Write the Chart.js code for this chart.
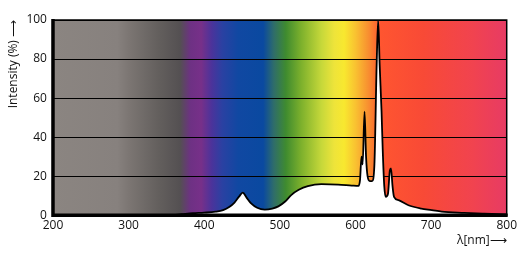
<!DOCTYPE html>
<html>
<head>
<meta charset="utf-8">
<script src="https://cdn.jsdelivr.net/npm/chart.js@4"></script>
<style>
  html, body { margin: 0; padding: 0; background: #fff; }
  #wrap { width: 520px; height: 262px; }
</style>
</head>
<body>
<div id="wrap"><canvas id="spectrum"></canvas></div>
<script>
// wavelength (nm) and relative intensity (%)
const wavelengths = [200, 355, 370, 385, 400, 415, 425, 433, 440, 446, 451, 456, 462, 470, 480, 490, 498, 507, 515, 525, 537, 555, 577, 595, 604, 606, 608, 609.5, 612, 614, 616, 619, 622, 625, 628, 630, 632, 634.5, 636, 638, 640, 643, 645.5, 647, 649, 651, 657, 670, 687, 701, 714, 744, 770, 800];
const intensity   = [0,   0,   0.5, 1,   1.3, 1.8, 2.6, 4.2, 6.5, 9.5, 11.6, 9,  6,   3.8, 2.9, 3.4, 4.5, 7,   10.3, 13,  14.9, 15.9, 15.7, 15.2, 15, 18, 30,  26,    53,  30,  20,  17.5, 17.5, 25.5, 77, 100, 77,  53,    34,  15.4, 9.4, 11,  23,    24,  15,  9.4, 7.7, 5.1, 3.4, 2.6, 1.8, 1.2, 0.8, 0.4];

const xTicks = [200, 300, 400, 500, 600, 700, 800];
const yTicks = [0, 20, 40, 60, 80, 100];

// colours of the spectrum behind the curve
const spectrumStops = [
    [200, "#8b8581"], [285, "#87817e"], [300, "#7c7673"], [340, "#635f5d"], [368, "#545052"],
    [382, "#6e3184"], [396, "#773089"], [410, "#4b339b"], [424, "#2a41a2"], [445, "#1048a2"],
    [478, "#0a49a0"], [492, "#2f6d6a"], [508, "#3f8b2f"], [528, "#7cb02c"], [555, "#c6d83a"],
    [572, "#eee43a"], [585, "#f8e82f"], [600, "#f9c231"], [618, "#f88c30"], [633, "#ff5530"],
    [690, "#f84a36"], [755, "#f1434f"], [800, "#e73b64"]
];

const spectrumBackground = {
    id: "spectrumBackground",
    beforeDraw(chart) {
        const { ctx, chartArea: a, scales: { x } } = chart;
        const g = ctx.createLinearGradient(a.left, 0, a.right, 0);
        spectrumStops.forEach(([nm, c]) => {
            const p = (x.getPixelForValue(nm) - a.left) / (a.right - a.left);
            g.addColorStop(Math.min(1, Math.max(0, p)), c);
        });
        ctx.save();
        ctx.fillStyle = g;
        ctx.fillRect(a.left, a.top, a.right - a.left, a.bottom - a.top);
        ctx.restore();
    },
    afterDraw(chart) {
        const { ctx, chartArea: a } = chart;
        ctx.save();
        ctx.strokeStyle = "#000";
        ctx.lineWidth = 1.5;
        ctx.strokeRect(a.left, a.top, a.right - a.left, a.bottom - a.top);
        ctx.lineWidth = 3.5;
        ctx.beginPath();
        ctx.moveTo(a.left, a.top - 1);
        ctx.lineTo(a.left, a.bottom);
        ctx.lineTo(a.right + 1, a.bottom);
        ctx.stroke();
        ctx.restore();
    }
};

const points = wavelengths.map((w, i) => ({ x: w, y: intensity[i] }));

new Chart(document.getElementById("spectrum"), {
    type: "line",
    data: {
        datasets: [{
            data: points,
            borderColor: "#000",
            borderWidth: 1.8,
            backgroundColor: "#fff",
            fill: "origin",
            pointRadius: 0,
            cubicInterpolationMode: "monotone"
        }]
    },
    options: {
        responsive: true,
        maintainAspectRatio: false,
        animation: false,
        layout: { padding: { left: 1, right: 12, top: 20, bottom: 14 } },
        plugins: { legend: { display: false }, tooltip: { enabled: false } },
        scales: {
            x: {
                type: "linear",
                min: 200,
                max: 800,
                afterBuildTicks: s => { s.ticks = xTicks.map(v => ({ value: v })); },
                grid: { display: false, drawTicks: false },
                border: { display: false },
                ticks: { color: "#111", font: { family: "Open Sans", size: 12 }, padding: 3, maxRotation: 0 },
                title: {
                    display: true,
                    text: "λ[nm]⟶",
                    align: "end",
                    color: "#111",
                    font: { family: "Open Sans", size: 12 },
                    padding: { top: -2, bottom: 0 }
                }
            },
            y: {
                min: 0,
                max: 100,
                afterBuildTicks: s => { s.ticks = yTicks.map(v => ({ value: v })); },
                grid: { color: "#000", lineWidth: 1, drawTicks: false },
                border: { display: false },
                ticks: { color: "#111", font: { family: "Open Sans", size: 12 }, padding: 6 },
                title: {
                    display: true,
                    text: "Intensity (%) ⟶",
                    align: "end",
                    color: "#111",
                    font: { family: "Open Sans", size: 12 },
                    padding: { top: 5, bottom: 0 }
                }
            }
        }
    },
    plugins: [spectrumBackground]
});
</script>
</body>
</html>
